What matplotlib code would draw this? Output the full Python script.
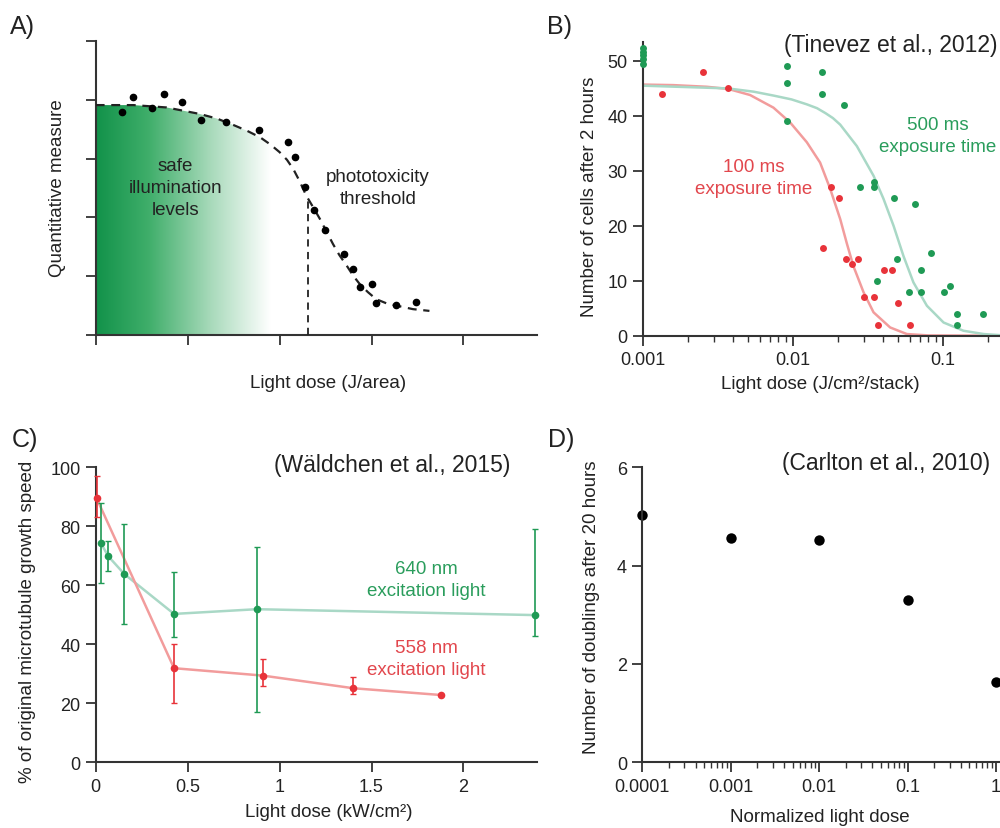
import numpy as np
import matplotlib
matplotlib.use("Agg")
import matplotlib.pyplot as plt
from matplotlib.colors import LinearSegmentedColormap
from matplotlib.patches import Polygon
from matplotlib.ticker import LogLocator, NullFormatter

plt.rcParams["font.family"] = ["Liberation Sans", "DejaVu Sans"]

INK = "#222222"
GREEN = "#1f9a55"
RED = "#e8333a"
GREEN_LINE = "#a9d8c6"
RED_LINE = "#f29c9c"
GREEN_TEXT = "#2a9d5c"
RED_TEXT = "#e2474d"
LSP = 1.4  # line spacing of the two/three line annotations

# --- Panel A: schematic dose response ---
a_dots_x = [0.29, 0.41, 0.61, 0.74, 0.94, 1.14, 1.42, 1.78, 2.09, 2.17,
            2.28, 2.37, 2.49, 2.70, 2.80, 2.87, 3.00, 3.05, 3.27, 3.48]
a_dots_y = [3.79, 4.05, 3.86, 4.10, 3.96, 3.65, 3.63, 3.48, 3.28, 3.02,
            2.51, 2.13, 1.79, 1.38, 1.12, 0.81, 0.86, 0.54, 0.51, 0.56]
a_fit_x = [0.0, 0.41, 0.77, 1.13, 1.32, 1.50, 1.65, 1.79, 1.90, 2.00, 2.08,
           2.15, 2.22, 2.29, 2.37, 2.44, 2.51, 2.58, 2.65, 2.73, 2.80, 2.87,
           2.96, 3.05, 3.16, 3.27, 3.45, 3.63]
a_fit_y = [3.91, 3.91, 3.87, 3.76, 3.68, 3.57, 3.47, 3.36, 3.24, 3.11, 2.98,
           2.82, 2.61, 2.37, 2.16, 1.97, 1.76, 1.55, 1.36, 1.18, 1.01, 0.87,
           0.73, 0.61, 0.54, 0.50, 0.44, 0.41]
a_threshold_x = 2.31
a_threshold_y = 2.31

# --- Panel B: Tinevez et al., 2012 ---
b_red_x = [0.00134, 0.00251, 0.00369, 0.0179, 0.0203, 0.016, 0.0225, 0.0249,
           0.0273, 0.0296, 0.035, 0.0369, 0.0402, 0.0457, 0.0501, 0.0605]
b_red_y = [44, 48, 45, 27, 25, 16, 14, 13, 14, 7, 7, 2, 12, 12, 6, 2]
b_green_x = [0.001, 0.001, 0.001, 0.001, 0.001, 0.0092, 0.0092, 0.0092,
             0.0156, 0.0156, 0.0218, 0.0281, 0.0345, 0.0345, 0.0363, 0.0469,
             0.0493, 0.0655, 0.059, 0.0713, 0.0713, 0.0832, 0.101, 0.112,
             0.124, 0.124, 0.184]
b_green_y = [49.5, 50.3, 51, 51.7, 52.4, 49, 46, 39, 48, 44, 42, 27, 28, 27,
             10, 25, 14, 24, 8, 12, 8, 15, 8, 9, 4, 2, 4]
b_red_fit_x = [0.001, 0.0016, 0.00267, 0.00372, 0.00519, 0.00743, 0.0096,
               0.0124, 0.0152, 0.0177, 0.0207, 0.0229, 0.0253, 0.0296, 0.0345,
               0.0445, 0.0575, 0.08, 0.24]
b_red_fit_y = [45.7, 45.6, 45.3, 44.9, 43.8, 41.5, 38.8, 35.2, 31.5, 26.8,
               21.2, 16.8, 12.7, 7.9, 4.25, 1.5, 0.3, 0.05, 0.0]
b_green_fit_x = [0.001, 0.0037, 0.0055, 0.00743, 0.0098, 0.0124, 0.0145,
                 0.0165, 0.0185, 0.0207, 0.0267, 0.0345, 0.0402, 0.0469,
                 0.0546, 0.0636, 0.0782, 0.101, 0.137, 0.187, 0.24]
b_green_fit_y = [45.5, 45.0, 44.4, 43.7, 43.0, 42.1, 41.4, 40.5, 39.6, 38.4,
                 34.5, 29.1, 24.9, 20.0, 14.5, 9.7, 5.45, 2.4, 0.9, 0.3, 0.1]

# --- Panel C: Waldchen et al., 2015 ---
c_green_x = [0.027, 0.069, 0.156, 0.426, 0.876, 2.39]
c_green_y = [74.4, 69.8, 63.8, 50.3, 51.9, 49.9]
c_green_lo = [60.8, 64.7, 46.9, 42.4, 16.9, 42.9]
c_green_hi = [87.8, 74.9, 80.9, 64.4, 73.1, 79.1]
c_red_x = [0.005, 0.426, 0.908, 1.402, 1.879]
c_red_y = [89.5, 31.9, 29.4, 25.1, 22.8]
c_red_lo = [83.0, 20.0, 26.0, 23.2, 22.8]
c_red_hi = [97.2, 40.0, 35.0, 29.0, 22.8]

# --- Panel D: Carlton et al., 2010 ---
d_dose = [0.0001, 0.001, 0.01, 0.1, 1.0]
d_doublings = [5.02, 4.56, 4.52, 3.30, 1.63]

W, H = 1000, 829
fig = plt.figure(figsize=(10, 8.29), dpi=100)


def px_axes(left, top, right, bottom):
    return fig.add_axes([left / W, 1 - bottom / H, (right - left) / W, (bottom - top) / H])


def style(ax):
    for side in ["top", "right"]:
        ax.spines[side].set_visible(False)
    for side in ["left", "bottom"]:
        ax.spines[side].set_color("#333333")
        ax.spines[side].set_linewidth(1.5)
    ax.tick_params(which="major", direction="out", length=7, width=1.3,
                   color="#333333", labelsize=13, labelcolor=INK, pad=4)
    ax.tick_params(which="minor", direction="out", length=4, width=1.0, color="#333333")


def labels(ax, xlabel, ylabel, xpos, ypos):
    ax.text(xpos[0], xpos[1], xlabel, transform=ax.transAxes, ha="center",
            va="center", fontsize=13.5, color=INK)
    ax.text(ypos[0], ypos[1], ylabel, transform=ax.transAxes, ha="center",
            va="center", rotation=90, fontsize=13.5, color=INK)


# Panel A
axA = px_axes(95.7, 42, 537, 336)
style(axA)
axA.set_xlim(0, 4.8)
axA.set_ylim(0, 5)
axA.set_xticks([0, 1, 2, 3, 4])
axA.set_yticks([0, 1, 2, 3, 4, 5])
axA.set_xticklabels([])
axA.set_yticklabels([])
green_fade = LinearSegmentedColormap.from_list(
    "fade", [(0, "#12924a"), (0.3, "#3fae6a"), (0.65, "#a6d9b9"), (1, "#ffffff")])
grad = axA.imshow(np.linspace(0, 1, 256).reshape(1, -1), cmap=green_fade, aspect="auto",
                  extent=[0, 1.9, 0, 4.0], zorder=1)
under = Polygon(list(zip(a_fit_x, a_fit_y)) + [(a_fit_x[-1], 0), (0, 0)],
                closed=True, facecolor="none", edgecolor="none")
axA.add_patch(under)
grad.set_clip_path(under)
axA.plot(a_fit_x, a_fit_y, color="#222222", lw=1.6, ls=(0, (4, 3)), zorder=3)
axA.plot([a_threshold_x, a_threshold_x], [0, a_threshold_y], color="#222222",
         lw=1.3, ls=(0, (4, 3)), zorder=3)
axA.plot(a_dots_x, a_dots_y, "o", color="black", ms=4.5, zorder=4)
axA.text(0.87, 2.51, "safe\nillumination\nlevels", ha="center", va="center",
         fontsize=13.5, color=INK, linespacing=LSP, zorder=5)
axA.text(3.07, 2.51, "phototoxicity\nthreshold", ha="center", va="center",
         fontsize=13.5, color=INK, linespacing=LSP)
labels(axA, "Light dose (J/area)", "Quantitative measure", (0.527, -0.163), (-0.0855, 0.503))

# Panel B
axB = px_axes(642.7, 42.7, 1000, 336.7)
style(axB)
axB.set_xscale("log")
axB.set_xlim(0.001, 0.24)
axB.set_ylim(0, 53.5)
axB.set_xticks([0.001, 0.01, 0.1], labels=["0.001", "0.01", "0.1"])
axB.xaxis.set_minor_locator(LogLocator(base=10, subs=np.arange(2, 10)))
axB.xaxis.set_minor_formatter(NullFormatter())
axB.set_yticks([0, 10, 20, 30, 40, 50])
axB.plot(b_red_fit_x, b_red_fit_y, color=RED_LINE, lw=1.8, zorder=2, solid_joinstyle="round")
axB.plot(b_green_fit_x, b_green_fit_y, color=GREEN_LINE, lw=1.8, zorder=2, solid_joinstyle="round")
axB.plot(b_red_x, b_red_y, "o", color=RED, ms=5, mec="none", zorder=3, clip_on=False)
axB.plot(b_green_x, b_green_y, "o", color=GREEN, ms=5, mec="none", zorder=3, clip_on=False)
axB.text(0.0055, 28.8, "100 ms\nexposure time", ha="center", va="center",
         fontsize=13.5, color=RED_TEXT, linespacing=LSP)
axB.text(0.092, 36.4, "500 ms\nexposure time", ha="center", va="center",
         fontsize=13.5, color=GREEN_TEXT, linespacing=LSP)
axB.text(0.994, 0.992, "(Tinevez et al., 2012)", transform=axB.transAxes,
         ha="right", va="center", fontsize=16.5, color=INK)
labels(axB, "Light dose (J/cm²/stack)", "Number of cells after 2 hours",
       (0.496, -0.164), (-0.1475, 0.476))

# Panel C
axC = px_axes(95.7, 468.3, 537, 763.3)
style(axC)
axC.set_xlim(0, 2.4)
axC.set_ylim(0, 100)
axC.set_xticks([0, 0.5, 1, 1.5, 2], labels=["0", "0.5", "1", "1.5", "2"])
axC.set_yticks([0, 20, 40, 60, 80, 100])
axC.plot(c_green_x, c_green_y, color=GREEN_LINE, lw=1.8, zorder=2, clip_on=False)
axC.plot(c_red_x, c_red_y, color=RED_LINE, lw=1.8, zorder=2, clip_on=False)
g_err = [np.subtract(c_green_y, c_green_lo), np.subtract(c_green_hi, c_green_y)]
r_err = [np.subtract(c_red_y, c_red_lo), np.subtract(c_red_hi, c_red_y)]
axC.errorbar(c_green_x, c_green_y, yerr=g_err, fmt="o", color=GREEN, ms=5.5,
             mec="none", elinewidth=1.2, capsize=2.5, capthick=1.0, zorder=3, clip_on=False)
axC.errorbar(c_red_x, c_red_y, yerr=r_err, fmt="o", color=RED, ms=5.5,
             mec="none", elinewidth=1.2, capsize=2.5, capthick=1.0, zorder=4, clip_on=False)
axC.text(1.80, 62.1, "640 nm\nexcitation light", ha="center", va="center",
         fontsize=13.5, color=GREEN_TEXT, linespacing=LSP)
axC.text(1.80, 35.3, "558 nm\nexcitation light", ha="center", va="center",
         fontsize=13.5, color=RED_TEXT, linespacing=LSP)
axC.text(0.939, 1.011, "(Wäldchen et al., 2015)", transform=axC.transAxes,
         ha="right", va="center", fontsize=16.5, color=INK)
labels(axC, "Light dose (kW/cm²)", "% of original microtubule growth speed",
       (0.527, -0.168), (-0.1535, 0.479))

# Panel D
axD = px_axes(642.3, 468.3, 1000, 763.3)
style(axD)
axD.set_xscale("log")
axD.set_xlim(0.0001, 1.11)
axD.set_ylim(0, 6)
axD.set_xticks([0.0001, 0.001, 0.01, 0.1, 1], labels=["0.0001", "0.001", "0.01", "0.1", "1"])
axD.xaxis.set_minor_locator(LogLocator(base=10, subs=np.arange(2, 10)))
axD.xaxis.set_minor_formatter(NullFormatter())
axD.set_yticks([0, 2, 4, 6])
axD.plot(d_dose, d_doublings, "o", color="black", ms=7.5, mec="none", clip_on=False)
axD.text(0.972, 1.017, "(Carlton et al., 2010)", transform=axD.transAxes,
         ha="right", va="center", fontsize=16.5, color=INK)
labels(axD, "Normalized light dose", "Number of doublings after 20 hours",
       (0.497, -0.185), (-0.1415, 0.528))

for tag, x, y in [("A)", 0.010, 0.967), ("B)", 0.547, 0.967),
                  ("C)", 0.012, 0.469), ("D)", 0.548, 0.469)]:
    fig.text(x, y, tag, ha="left", va="center", fontsize=18, color=INK)

fig.savefig("out.png", dpi=100)
